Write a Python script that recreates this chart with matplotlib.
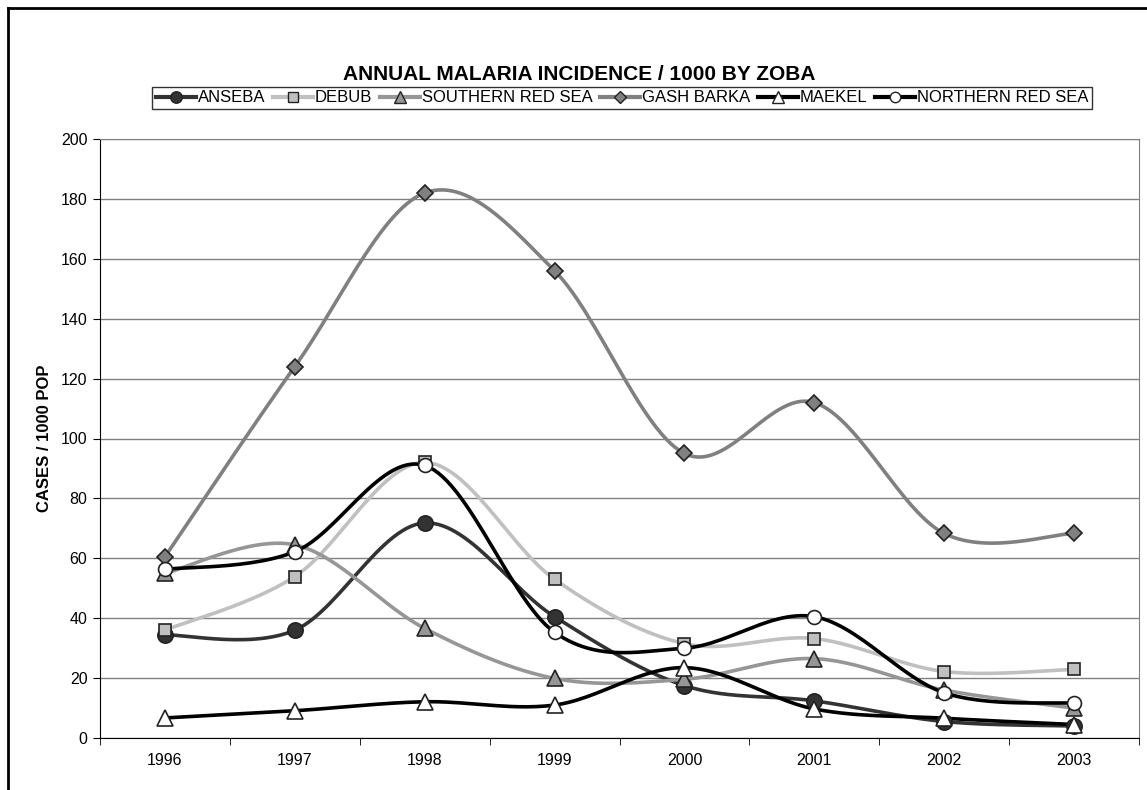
import numpy as np
import matplotlib
matplotlib.use("Agg")
import matplotlib.pyplot as plt
from matplotlib.lines import Line2D

plt.rcParams["font.family"] = ["Liberation Sans", "DejaVu Sans"]

years = ["1996", "1997", "1998", "1999", "2000", "2001", "2002", "2003"]

anseba = [34.4, 36, 71.8, 40.5, 17.5, 12.4, 5.5, 4]
debub = [36, 53.9, 92, 53, 31.5, 33.2, 22.2, 22.9]
southern_red_sea = [55, 64.5, 36.6, 19.9, 19.6, 26.5, 16, 10]
gash_barka = [60.5, 124, 182, 156, 95, 112, 68.3, 68.3]
maekel = [6.7, 9.1, 12.1, 11, 23.5, 9.7, 6.6, 4.5]
northern_red_sea = [56.3, 62.2, 91, 35.3, 30, 40.5, 15.1, 11.6]

# 系列ごとのスタイル (名前, 値, 線色, マーカー, マーカー色, サイズ)
series = [
    ("ANSEBA", anseba, "#333333", "o", "#333333", 11),
    ("DEBUB", debub, "#c0c0c0", "s", "#c0c0c0", 9),
    ("SOUTHERN RED SEA", southern_red_sea, "#969696", "^", "#969696", 11),
    ("GASH BARKA", gash_barka, "#808080", "D", "#808080", 8),
    ("MAEKEL", maekel, "#000000", "^", "#ffffff", 11),
    ("NORTHERN RED SEA", northern_red_sea, "#000000", "o", "#ffffff", 10),
]


def smooth_curve(xs, ys, n=30):
    """
    Excel風のスムージング (ベジェ, 係数1/6)
    """
    xs = np.asarray(xs, float)
    ys = np.asarray(ys, float)
    px = np.concatenate([[xs[0]], xs, [xs[-1]]])
    py = np.concatenate([[ys[0]], ys, [ys[-1]]])
    out_x, out_y = [], []
    t = np.linspace(0, 1, n)
    for i in range(1, len(px) - 2):
        p0 = np.array([px[i], py[i]])
        p3 = np.array([px[i + 1], py[i + 1]])
        c1 = p0 + (np.array([px[i + 1], py[i + 1]]) - np.array([px[i - 1], py[i - 1]])) / 6
        c2 = p3 - (np.array([px[i + 2], py[i + 2]]) - np.array([px[i], py[i]])) / 6
        bx = (1 - t) ** 3 * p0[0] + 3 * (1 - t) ** 2 * t * c1[0] + 3 * (1 - t) * t ** 2 * c2[0] + t ** 3 * p3[0]
        by = (1 - t) ** 3 * p0[1] + 3 * (1 - t) ** 2 * t * c1[1] + 3 * (1 - t) * t ** 2 * c2[1] + t ** 3 * p3[1]
        out_x.extend(bx)
        out_y.extend(by)
    return out_x, out_y


fig = plt.figure(figsize=(11.47, 7.9), dpi=100)
ax = fig.add_axes([100 / 1147, 1 - 738 / 790, 1039 / 1147, 599 / 790])

x = np.arange(len(years))
handles = []
for name, vals, lc, mk, mc, ms in series:
    sx, sy = smooth_curve(x, vals)
    ax.plot(sx, sy, color=lc, lw=2.6, solid_capstyle="round", zorder=3)
    ax.plot(x, vals, ls="none", marker=mk, ms=ms, mfc=mc, mec="#222222", mew=1.2, zorder=4)
    handles.append(Line2D([], [], color=lc, lw=3, marker=mk, ms=ms * 0.75,
                          mfc=mc, mec="#222222", mew=1.0, label=name))

ax.set_xlim(-0.5, len(years) - 0.5)
ax.set_ylim(0, 200)
ax.set_yticks(np.arange(0, 201, 20))
ax.set_xticks(x)
ax.set_xticklabels(years)
ax.set_xticks(np.arange(-0.5, len(years), 1), minor=True)
ax.tick_params(axis="x", which="major", length=0, pad=11, labelsize=11.5)
ax.tick_params(axis="x", which="minor", length=5, direction="out", color="black")
ax.tick_params(axis="y", length=5, direction="out", labelsize=11.5, pad=4)
ax.yaxis.grid(True, color="#808080", lw=1)
ax.set_axisbelow(True)

for s in ["top", "right"]:
    ax.spines[s].set_color("#808080")
ax.spines["left"].set_color("black")
ax.spines["bottom"].set_color("black")

ax.set_ylabel("CASES / 1000 POP", fontsize=12, fontweight="bold", labelpad=6)

fig.text(579 / 1147, 1 - 75 / 790, "ANNUAL MALARIA INCIDENCE / 1000 BY ZOBA",
         ha="center", va="center", fontsize=15, fontweight="bold")

leg = fig.legend(handles=handles, loc="center", bbox_to_anchor=(622 / 1147, 1 - 98 / 790),
                 ncol=6, fontsize=12, frameon=True, fancybox=False, edgecolor="black",
                 handlelength=2.4, handletextpad=0.12, columnspacing=0.45,
                 borderpad=0.2, borderaxespad=0)
leg.get_frame().set_linewidth(1)

# 外枠
fig.add_artist(Line2D([8 / 1147, 8 / 1147], [0, 1 - 8 / 790], color="black", lw=2,
                      transform=fig.transFigure))
fig.add_artist(Line2D([8 / 1147, 1], [1 - 8 / 790, 1 - 8 / 790], color="black", lw=2,
                      transform=fig.transFigure))

fig.savefig("out.png", dpi=100)
